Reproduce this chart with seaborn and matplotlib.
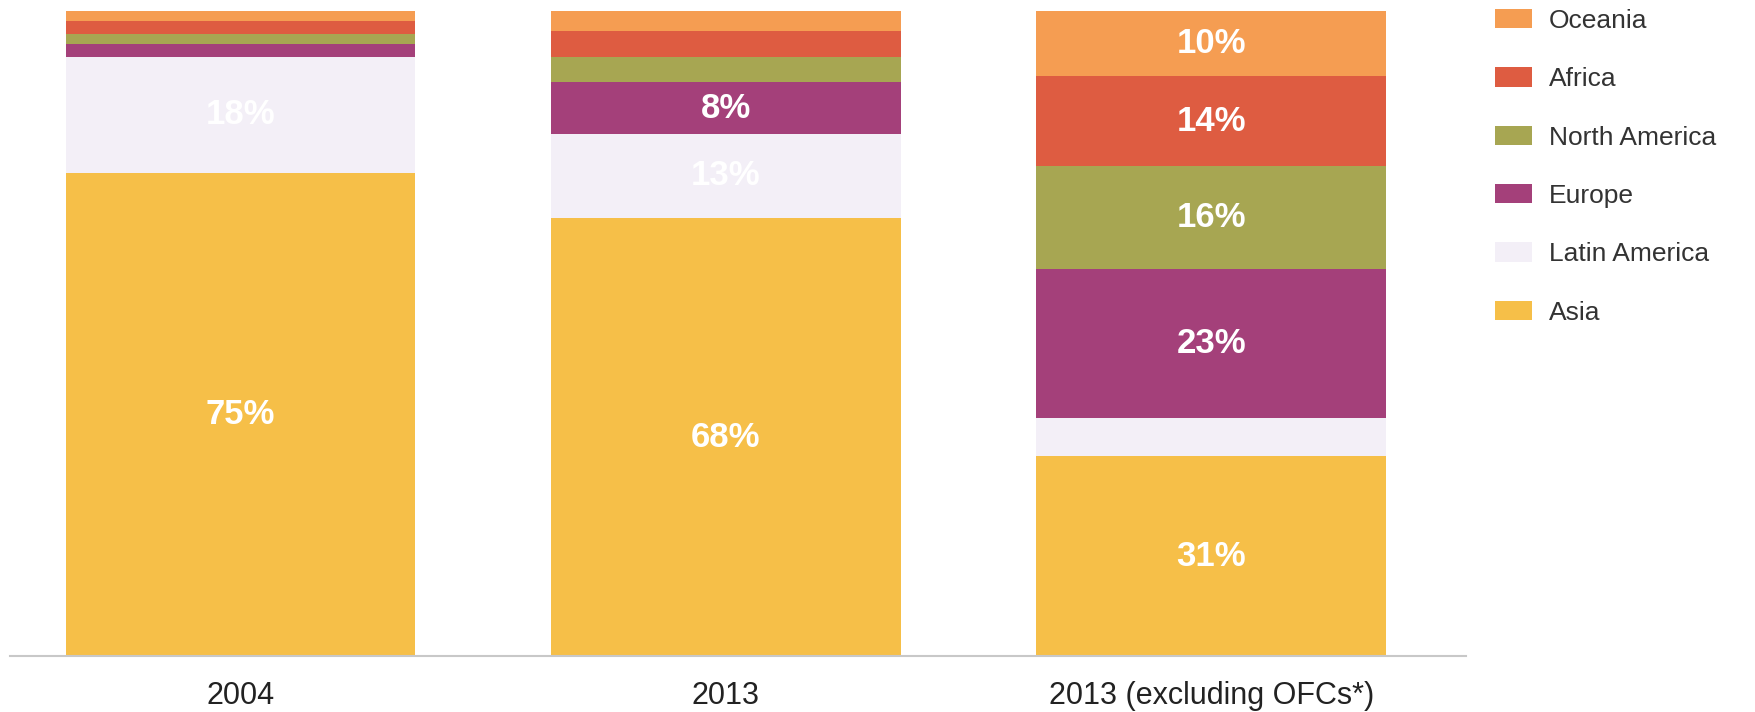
import matplotlib
matplotlib.use("Agg")
import matplotlib.pyplot as plt
import matplotlib.patches as mpatches
import seaborn as sns
import pandas as pd

# Share of outward investment by destination region (%)
categories = ["2004", "2013", "2013 (excluding OFCs*)"]
regions = ["Asia", "Latin America", "Europe", "North America", "Africa", "Oceania"]
asia = [75, 68, 31]
latin_america = [18, 13, 6]
europe = [2, 8, 23]
north_america = [1.5, 4, 16]
africa = [2, 4, 14]
oceania = [1.5, 3, 10]

colors = {
    "Asia": "#F6BF48",
    "Latin America": "#F3EFF7",
    "Europe": "#A4407A",
    "North America": "#A7A652",
    "Africa": "#DE5C41",
    "Oceania": "#F59D52",
}

series = {
    "Asia": asia,
    "Latin America": latin_america,
    "Europe": europe,
    "North America": north_america,
    "Africa": africa,
    "Oceania": oceania,
}

sns.set_theme(style="white")
plt.rcParams["font.family"] = ["Liberation Sans", "DejaVu Sans"]

fig = plt.figure(figsize=(17.55, 7.12), dpi=100)
ax = fig.add_axes([0.0057, 0.078, 0.8296, 0.906])

bottom = [0.0] * len(categories)
for region in regions:
    vals = series[region]
    df = pd.DataFrame({"category": categories, "share": vals})
    sns.barplot(data=df, x="category", y="share", order=categories,
                color=colors[region], bottom=bottom, width=0.72,
                saturation=1, linewidth=0, ax=ax)
    for i, v in enumerate(vals):
        if v >= 7:
            ax.text(i, bottom[i] + v / 2, f"{v:g}%", ha="center", va="center",
                    color="white", fontsize=25, fontweight="bold")
    bottom = [b + v for b, v in zip(bottom, vals)]

ax.set_xlim(-0.475, 2.525)
ax.set_ylim(0, 100)
ax.set_xlabel("")
ax.set_ylabel("")
ax.set_yticks([])
ax.tick_params(axis="x", length=0, labelsize=22, labelcolor="#222222", pad=18)
for side in ["top", "right", "left"]:
    ax.spines[side].set_visible(False)
ax.spines["bottom"].set_color("#C8C8C8")
ax.spines["bottom"].set_linewidth(1.5)

handles = [mpatches.Patch(facecolor=colors[r], edgecolor="none", label=r)
           for r in reversed(regions)]
fig.legend(handles=handles, loc="upper left",
           bbox_to_anchor=(1495 / 1755, 1 - 9 / 712), frameon=False,
           fontsize=19, handlelength=1.4, handleheight=0.75,
           handletextpad=0.65, labelspacing=1.3, borderpad=0,
           borderaxespad=0, labelcolor="#333333")

fig.savefig("out.png", dpi=100, facecolor="white")
